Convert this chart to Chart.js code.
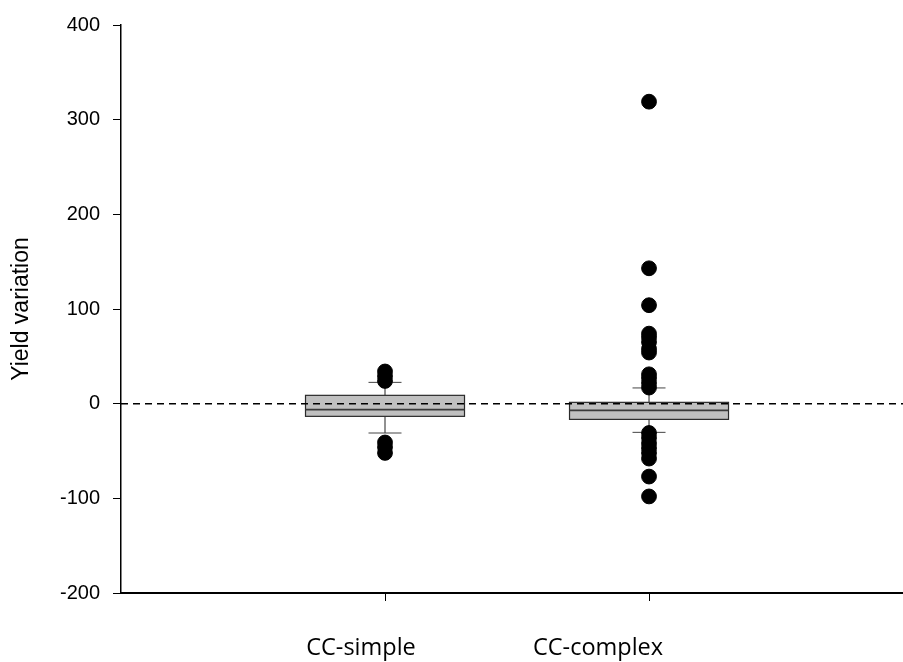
<!DOCTYPE html>
<html>
<head>
<meta charset="utf-8">
<script src="https://cdn.jsdelivr.net/npm/chart.js@4/dist/chart.umd.min.js"></script>
<style>
  html, body { margin: 0; padding: 0; background: #ffffff; }
  #wrap { width: 903px; height: 662px; }
</style>
</head>
<body>
<div id="wrap"><canvas id="c" width="903" height="662"></canvas></div>
<script>
// ---- data ----
const categories = ['CC-simple', 'CC-complex'];
const q1 = [-13.4, -16.6];
const median = [-6.3, -7.1];
const q3 = [8.8, 1.4];
const whiskerLow = [-31, -30.3];
const whiskerHigh = [22.5, 16.6];
const outliersSimple = [34, 29, 24, -41, -46, -52];
const outliersComplex = [319, 143, 104, 74, 70, 65, 58, 54, 31, 27, 22, 17, -31, -36, -42, -47, -52, -58, -77, -98];
const yTickValues = [-200, -100, 0, 100, 200, 300, 400];
const referenceValue = 0;
const yTitle = 'Yield variation';

// ---- styles ----
const X_MAX = 2.962;
const BOX_WIDTH_PX = 159;
const CAP_WIDTH_PX = 33;
const LABEL_OFFSET_PX = [-24, -51];

const outlierData = [];
[outliersSimple, outliersComplex].forEach((arr, i) => {
  arr.forEach(v => outlierData.push({ x: i + 1, y: v }));
});

const boxPlugin = {
  id: 'boxPlugin',
  beforeDatasetsDraw(chart) {
    const ctx = chart.ctx;
    const xs = chart.scales.x, ys = chart.scales.y;
    ctx.save();
    categories.forEach((c, i) => {
      const cx = xs.getPixelForValue(i + 1);
      const yq1 = ys.getPixelForValue(q1[i]);
      const yq3 = ys.getPixelForValue(q3[i]);
      const ym = ys.getPixelForValue(median[i]);
      const ylo = ys.getPixelForValue(whiskerLow[i]);
      const yhi = ys.getPixelForValue(whiskerHigh[i]);
      // whiskers
      ctx.strokeStyle = '#222';
      ctx.lineWidth = 1;
      ctx.beginPath();
      ctx.moveTo(cx, yq3); ctx.lineTo(cx, yhi);
      ctx.moveTo(cx, yq1); ctx.lineTo(cx, ylo);
      ctx.stroke();
      ctx.strokeStyle = '#444';
      ctx.beginPath();
      ctx.moveTo(cx - CAP_WIDTH_PX / 2, yhi); ctx.lineTo(cx + CAP_WIDTH_PX / 2, yhi);
      ctx.moveTo(cx - CAP_WIDTH_PX / 2, ylo); ctx.lineTo(cx + CAP_WIDTH_PX / 2, ylo);
      ctx.stroke();
      // box
      ctx.fillStyle = '#c0c0c0';
      ctx.fillRect(cx - BOX_WIDTH_PX / 2, yq3, BOX_WIDTH_PX, yq1 - yq3);
      ctx.strokeStyle = '#2a2a2a';
      ctx.lineWidth = 1.2;
      ctx.strokeRect(cx - BOX_WIDTH_PX / 2, yq3, BOX_WIDTH_PX, yq1 - yq3);
      // median
      ctx.strokeStyle = '#3a3a3a';
      ctx.lineWidth = 1.6;
      ctx.beginPath();
      ctx.moveTo(cx - BOX_WIDTH_PX / 2, ym); ctx.lineTo(cx + BOX_WIDTH_PX / 2, ym);
      ctx.stroke();
    });
    ctx.restore();
  },
  afterDraw(chart) {
    const ctx = chart.ctx;
    const xs = chart.scales.x;
    ctx.save();
    ctx.fillStyle = '#000';
    ctx.font = '23.5px "Open Sans", Lato, sans-serif';
    ctx.textAlign = 'center';
    ctx.textBaseline = 'alphabetic';
    categories.forEach((c, i) => {
      const cx = xs.getPixelForValue(i + 1) + LABEL_OFFSET_PX[i];
      ctx.fillText(c, cx, 655);
    });
    ctx.restore();
  }
};

new Chart(document.getElementById('c'), {
  type: 'scatter',
  data: {
    datasets: [
      {
        label: 'outliers',
        data: outlierData,
        backgroundColor: '#000',
        borderColor: '#000',
        pointRadius: 7.4,
        pointHoverRadius: 7.4,
        order: 0
      },
      {
        type: 'line',
        label: 'reference',
        data: [{ x: 0, y: referenceValue }, { x: X_MAX, y: referenceValue }],
        borderColor: '#000',
        borderWidth: 1.5,
        borderDash: [7, 5],
        pointRadius: 0,
        fill: false,
        order: 1
      }
    ]
  },
  options: {
    responsive: false,
    animation: false,
    events: [],
    layout: { autoPadding: false, padding: { left: 0, right: 0, top: 25, bottom: 0 } },
    plugins: { legend: { display: false }, tooltip: { enabled: false } },
    scales: {
      x: {
        type: 'linear',
        min: 0,
        max: X_MAX,
        afterBuildTicks(scale) { scale.ticks = categories.map((c, i) => ({ value: i + 1 })); },
        afterFit(scale) { scale.height = 69; },
        ticks: { display: false },
        grid: { display: true, drawOnChartArea: false, drawTicks: true, tickLength: 8, color: '#000', lineWidth: 1 },
        border: { display: true, color: '#000', width: 2 }
      },
      y: {
        min: -200,
        max: 400,
        afterBuildTicks(scale) { scale.ticks = yTickValues.map(v => ({ value: v })); },
        afterFit(scale) { scale.width = 121; },
        ticks: { color: '#000', padding: 13, font: { family: '"Liberation Sans", Arial, sans-serif', size: 20 } },
        grid: { display: true, drawOnChartArea: false, drawTicks: true, tickLength: 8, color: '#000', lineWidth: 1 },
        border: { display: true, color: '#000', width: 1.5 },
        title: { display: true, text: yTitle, color: '#000', padding: { top: 8, bottom: 0 }, font: { family: '"Liberation Sans", Arial, sans-serif', size: 23 } }
      }
    }
  },
  plugins: [boxPlugin]
});
</script>
</body>
</html>
